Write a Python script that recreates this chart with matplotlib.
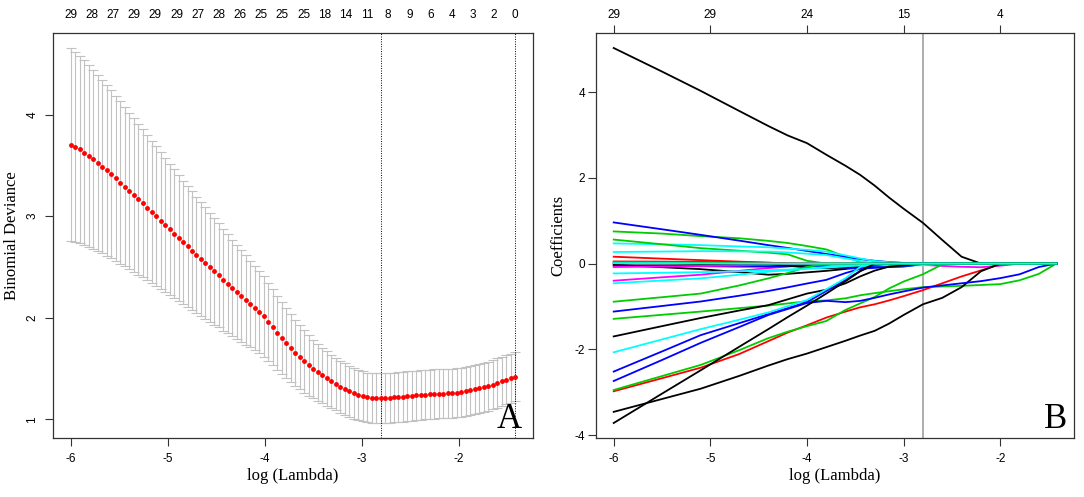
import numpy as np
import matplotlib
matplotlib.use("Agg")
import matplotlib.pyplot as plt

plt.rcParams['axes.unicode_minus'] = False
SANS = 'Liberation Sans'
SERIF = 'Liberation Serif'

# ---------------- panel A : cross-validation curve ----------------
# glmnet lambda grid (log scale, evenly spaced)
lam_first, lam_last, n_lambda = -6.0, -1.42, 100
log_lambda = np.linspace(lam_first, lam_last, n_lambda)

cv_mean = [3.706, 3.683, 3.657, 3.627, 3.594, 3.562, 3.525, 3.489, 3.453, 3.414,
           3.374, 3.332, 3.292, 3.250, 3.210, 3.167, 3.128, 3.085, 3.043, 3.003,
           2.957, 2.915, 2.872, 2.829, 2.787, 2.744, 2.704, 2.662, 2.622, 2.580,
           2.540, 2.498, 2.458, 2.419, 2.376, 2.337, 2.294, 2.254, 2.215, 2.176,
           2.136, 2.097, 2.057, 2.015, 1.962, 1.906, 1.854, 1.805, 1.752, 1.703,
           1.654, 1.611, 1.571, 1.532, 1.496, 1.463, 1.433, 1.404, 1.374, 1.348,
           1.322, 1.299, 1.276, 1.256, 1.240, 1.227, 1.217, 1.213, 1.210, 1.210,
           1.210, 1.213, 1.217, 1.220, 1.223, 1.230, 1.233, 1.236, 1.240, 1.243,
           1.246, 1.250, 1.253, 1.253, 1.256, 1.259, 1.263, 1.269, 1.279, 1.286,
           1.296, 1.305, 1.315, 1.328, 1.342, 1.358, 1.374, 1.391, 1.407, 1.420]

cv_se = [0.950, 0.936, 0.922, 0.909, 0.895, 0.881, 0.867, 0.853, 0.840, 0.826,
         0.812, 0.798, 0.784, 0.770, 0.757, 0.743, 0.729, 0.715, 0.701, 0.688,
         0.674, 0.660, 0.646, 0.632, 0.618, 0.604, 0.593, 0.582, 0.571, 0.560,
         0.549, 0.537, 0.525, 0.513, 0.501, 0.489, 0.477, 0.464, 0.452, 0.439,
         0.427, 0.417, 0.406, 0.396, 0.385, 0.375, 0.365, 0.355, 0.345, 0.335,
         0.325, 0.316, 0.307, 0.297, 0.288, 0.279, 0.274, 0.269, 0.264, 0.259,
         0.256, 0.253, 0.251, 0.249, 0.247, 0.246, 0.245, 0.245, 0.245, 0.245,
         0.245, 0.245, 0.244, 0.244, 0.244, 0.244, 0.244, 0.243, 0.243, 0.243,
         0.243, 0.243, 0.243, 0.243, 0.242, 0.242, 0.242, 0.242, 0.242, 0.242,
         0.242, 0.242, 0.242, 0.242, 0.242, 0.242, 0.242, 0.242, 0.242, 0.242]

nzero_top = [29, 28, 27, 29, 29, 29, 27, 28, 26, 25, 25, 25, 18, 14, 11, 8, 9, 6, 4, 3, 2, 0]
log_lambda_min = -2.80
log_lambda_1se = -1.42

# ---------------- panel B : coefficient paths ----------------
path_grid = [-6.0, -5.5, -5.1, -4.7, -4.4, -4.2, -4.0, -3.8, -3.6, -3.45, -3.3,
             -3.15, -3.0, -2.8, -2.6, -2.4, -2.2, -2.0, -1.8, -1.6, -1.42]

b_big_black = [5.03, 4.48, 4.03, 3.56, 3.21, 2.99, 2.81, 2.54, 2.28, 2.07, 1.82, 1.54, 1.28, 0.95, 0.55, 0.16, 0, 0, 0, 0, 0]
b_blue1 = [0.96, 0.80, 0.67, 0.535, 0.43, 0.365, 0.295, 0.225, 0.155, 0.105, 0.065, 0.035, 0.015, 0, 0, 0, 0, 0, 0, 0, 0]
b_green1 = [0.75, 0.70, 0.64, 0.59, 0.53, 0.48, 0.41, 0.33, 0.16, 0.035, 0, 0, 0, 0, 0, 0, 0, 0, 0, 0, 0]
b_green2 = [0.56, 0.45, 0.36, 0.30, 0.255, 0.215, 0.065, 0, 0, 0, 0, 0, 0, 0, 0, 0, 0, 0, 0, 0, 0]
b_cyan1 = [0.47, 0.45, 0.43, 0.40, 0.38, 0.35, 0.32, 0.28, 0.19, 0.12, 0.06, 0.03, 0.01, 0, 0, 0, 0, 0, 0, 0, 0]
b_cyan2 = [0.27, 0.28, 0.29, 0.285, 0.28, 0.26, 0.23, 0.20, 0.12, 0.06, 0, 0, 0, 0, 0, 0, 0, 0, 0, 0, 0]
b_red1 = [0.16, 0.115, 0.08, 0.045, 0.02, 0, 0, 0, 0, 0, 0, 0, 0, 0, 0, 0, 0, 0, 0, 0, 0]
b_black_dip = [-0.03, -0.085, -0.13, -0.20, -0.26, -0.24, -0.205, -0.17, -0.125, -0.09, -0.065, -0.04, -0.02, -0.007, 0, 0, 0, 0, 0, 0, 0]
b_black_flat = [0.0, 0.0, -0.01, -0.01, -0.02, -0.05, -0.09, -0.11, -0.09, -0.05, -0.02, 0, 0, 0, 0, 0, 0, 0, 0, 0, 0]
b_blue_small = [-0.05, -0.05, -0.06, -0.07, -0.07, -0.06, -0.05, -0.07, -0.10, -0.12, -0.10, -0.08, -0.06, -0.02, 0, 0, 0, 0, 0, 0, 0]
b_red_small = [0.05, 0.045, 0.04, 0.03, 0.02, 0.01, 0, 0, 0, 0, 0, 0, 0, 0, 0, 0, 0, 0, 0, 0, 0]
b_magenta_small = [-0.08, -0.07, -0.06, -0.045, -0.03, -0.015, 0, 0, 0, 0, 0, 0, 0, 0, 0, 0, 0, 0, 0, 0, 0]
b_green_small = [0.03, 0.025, 0.02, 0.01, 0, 0, 0, 0, 0, 0, 0, 0, 0, 0, 0, 0, 0, 0, 0, 0, 0]
b_magenta_small2 = [0.02, 0.015, 0.01, 0, 0, 0, 0, 0, 0, 0, 0, 0, 0, 0, 0, 0, 0, 0, 0, 0, 0]
b_cyan3 = [-0.23, -0.215, -0.20, -0.18, -0.155, -0.14, -0.11, -0.08, -0.05, -0.04, -0.04, -0.04, -0.04, -0.04, 0, 0, 0, 0, 0, 0, 0]
b_magenta1 = [-0.40, -0.32, -0.26, -0.17, -0.105, -0.07, -0.04, -0.03, -0.02, -0.02, -0.02, -0.025, -0.025, -0.03, -0.055, -0.075, -0.085, -0.05, 0, 0, 0]
b_cyan4 = [-0.46, -0.395, -0.345, -0.26, -0.19, -0.155, -0.125, -0.095, -0.065, -0.04, -0.015, 0, 0, 0, 0, 0, 0, 0, 0, 0, 0]
b_green4 = [-0.89, -0.785, -0.70, -0.51, -0.345, -0.22, -0.08, 0, 0, 0, 0, 0, 0, 0, 0, 0, 0, 0, 0, 0, 0]
b_blue2 = [-1.12, -0.99, -0.885, -0.75, -0.64, -0.555, -0.465, -0.38, -0.22, -0.125, -0.08, -0.075, -0.07, -0.015, 0, 0, 0, 0, 0, 0, 0]
b_green3 = [-1.29, -1.195, -1.12, -1.04, -0.98, -0.93, -0.88, -0.86, -0.81, -0.74, -0.69, -0.645, -0.60, -0.55, -0.535, -0.52, -0.50, -0.48, -0.39, -0.24, 0]
b_black3 = [-1.70, -1.46, -1.27, -1.095, -0.97, -0.835, -0.70, -0.61, -0.46, -0.30, -0.165, -0.07, -0.045, -0.01, 0, 0, 0, 0, 0, 0, 0]
b_cyan5 = [-2.07, -1.77, -1.53, -1.31, -1.14, -0.995, -0.85, -0.60, -0.34, -0.08, 0, 0, 0, 0, 0, 0, 0, 0, 0, 0, 0]
b_blue3 = [-2.52, -2.05, -1.67, -1.39, -1.18, -1.04, -0.90, -0.64, -0.38, -0.175, -0.035, 0, 0, 0, 0, 0, 0, 0, 0, 0, 0]
b_blue4 = [-2.74, -2.25, -1.85, -1.48, -1.20, -1.06, -0.92, -0.87, -0.90, -0.87, -0.80, -0.72, -0.65, -0.56, -0.51, -0.46, -0.41, -0.34, -0.25, -0.08, 0]
b_green5 = [-2.95, -2.625, -2.365, -2.02, -1.74, -1.59, -1.46, -1.34, -1.08, -0.93, -0.78, -0.58, -0.42, -0.25, -0.02, 0, 0, 0, 0, 0, 0]
b_red2 = [-2.98, -2.675, -2.43, -2.11, -1.81, -1.61, -1.44, -1.26, -1.12, -1.02, -0.95, -0.86, -0.76, -0.62, -0.46, -0.30, -0.16, -0.02, 0, 0, 0]
b_black4 = [-3.46, -3.16, -2.92, -2.62, -2.38, -2.23, -2.10, -1.95, -1.80, -1.68, -1.57, -1.40, -1.20, -0.95, -0.80, -0.55, -0.18, 0, 0, 0, 0]
b_black5 = [-3.72, -3.035, -2.49, -1.94, -1.53, -1.25, -0.98, -0.70, -0.41, -0.18, 0, 0, 0, 0, 0, 0, 0, 0, 0, 0, 0]
b_cyan_zero = [0.01, 0.01, 0.005, 0, 0, 0, 0, 0, 0, 0, 0, 0, 0, 0, 0, 0, 0, 0, 0, 0, 0]

top_ticks_B = [-6, -5, -4, -3, -2]
top_labels_B = [29, 29, 24, 15, 4]

# R matplot palette
BLACK, RED, GREEN, BLUE, CYAN, MAGENTA = 'black', '#FF0000', '#00CD00', '#0000FF', '#00FFFF', '#FF00FF'
paths = [
    (b_big_black, BLACK), (b_red1, RED), (b_green1, GREEN), (b_blue1, BLUE), (b_cyan1, CYAN),
    (b_magenta1, MAGENTA), (b_black_dip, BLACK), (b_red_small, RED), (b_green2, GREEN),
    (b_blue_small, BLUE), (b_cyan2, CYAN), (b_magenta_small, MAGENTA), (b_black_flat, BLACK),
    (b_red2, RED), (b_green3, GREEN), (b_blue2, BLUE), (b_cyan3, CYAN), (b_magenta_small2, MAGENTA),
    (b_black3, BLACK), (b_green4, GREEN), (b_blue3, BLUE), (b_cyan4, CYAN), (b_black4, BLACK),
    (b_green5, GREEN), (b_blue4, BLUE), (b_cyan5, CYAN), (b_black5, BLACK), (b_green_small, GREEN),
    (b_cyan_zero, CYAN),
]

# ---------------- figure ----------------
W, H = 1084, 497
fig = plt.figure(figsize=(W / 100, H / 100), dpi=100)
axA = fig.add_axes([53 / W, 59 / H, 480 / W, 405 / H])
axB = fig.add_axes([596 / W, 59 / H, 478 / W, 405 / H])

SPINE = '#333333'
for ax in (axA, axB):
    for s in ax.spines.values():
        s.set_color(SPINE)
        s.set_linewidth(0.9)
    ax.tick_params(direction='out', length=5.5, width=0.8, color=SPINE,
                   labelsize=8.5, labelfontfamily=SANS)
    ax.tick_params(axis='x', pad=5)
    ax.set_xticks([-6, -5, -4, -3, -2])
    ax.set_xlabel('log (Lambda)', family=SERIF, fontsize=12)
    ax.xaxis.set_label_coords(0.5, -0.074)

def padded(lo, hi, f=0.04):
    r = hi - lo
    return lo - f * r, hi + f * r

mean = np.array(cv_mean)
se = np.array(cv_se)

# panel A
axA.errorbar(log_lambda, mean, yerr=se, fmt='none', ecolor='#C2C2C2',
             elinewidth=0.8, capsize=3.4, capthick=0.8, zorder=1)
axA.plot(log_lambda, mean, 'o', color='red', ms=3.5, mec='none', zorder=3)
for v in (log_lambda_min, log_lambda_1se):
    axA.axvline(v, color='black', lw=0.7, ls=(0, (1, 1.5)), zorder=2)
axA.set_xlim(*padded(log_lambda.min(), log_lambda.max()))
axA.set_ylim(*padded((mean - se).min(), (mean + se).max()))
axA.set_yticks([1, 2, 3, 4])
axA.tick_params(axis='y', labelrotation=90, pad=5)
for t in axA.get_yticklabels():
    t.set_va('center')
axA.set_ylabel('Binomial Deviance', family=SERIF, fontsize=12)
axA.yaxis.set_label_coords(-0.069, 0.5)

# number of nonzero coefficients, labels spread evenly along the lambda range
topA = axA.secondary_xaxis('top')
topA.set_xticks(np.linspace(log_lambda[0], log_lambda[-1], len(nzero_top)))
topA.set_xticklabels([str(n) for n in nzero_top])
topA.tick_params(length=0, pad=8.5, labelsize=8.5, labelfontfamily=SANS)
topA.spines['top'].set_visible(False)

axA.text(0.977, 0.025, 'A', transform=axA.transAxes, ha='right', va='baseline',
         family=SERIF, fontsize=25)

# panel B
for vals, col in paths:
    axB.plot(path_grid, vals, color=col, lw=1.3, solid_joinstyle='round')
axB.axvline(log_lambda_min, color='#A0A0A0', lw=1.2, zorder=0)
all_vals = np.array([p[0] for p in paths])
axB.set_xlim(*padded(min(path_grid), max(path_grid)))
axB.set_ylim(*padded(all_vals.min(), all_vals.max()))
axB.set_yticks([-4, -2, 0, 2, 4])
axB.tick_params(axis='y', pad=2.5)
axB.set_ylabel('Coefficients', family=SERIF, fontsize=12)
axB.yaxis.set_label_coords(-0.063, 0.5)

topB = axB.secondary_xaxis('top')
topB.set_xticks(top_ticks_B)
topB.set_xticklabels([str(n) for n in top_labels_B])
topB.tick_params(direction='out', length=5.5, width=0.8, color=SPINE, pad=3.2,
                 labelsize=8.5, labelfontfamily=SANS)
topB.spines['top'].set_visible(False)

axB.text(0.985, 0.025, 'B', transform=axB.transAxes, ha='right', va='baseline',
         family=SERIF, fontsize=25)

fig.savefig('out.png', dpi=100)
